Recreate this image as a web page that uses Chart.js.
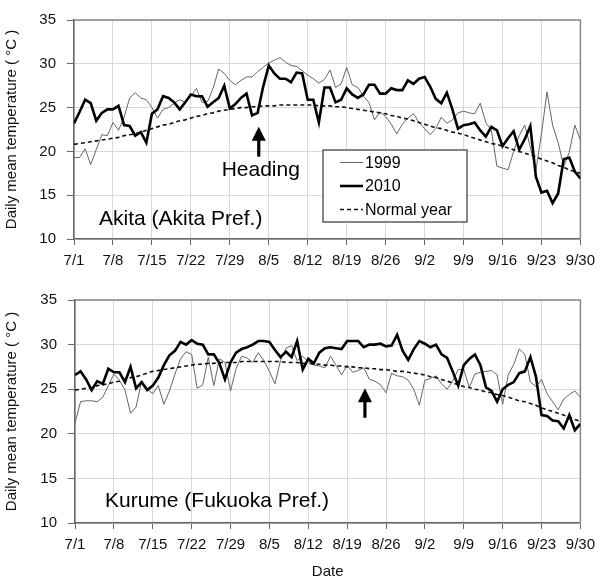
<!DOCTYPE html>
<html>
<head>
<meta charset="utf-8">
<script src="https://cdn.jsdelivr.net/npm/chart.js@4.4.1/dist/chart.umd.min.js"></script>
<style>
  html, body { margin: 0; padding: 0; background: #fff; }
  #wrap { position: relative; width: 602px; height: 581px; }
  #akita { position: absolute; left: 0; top: 0; }
  #kurume { position: absolute; left: 0; top: 280px; }
</style>
</head>
<body>
<div id="wrap">
  <canvas id="akita" width="602" height="280"></canvas>
  <canvas id="kurume" width="602" height="301"></canvas>
</div>
<script>
const tickLabels = ['7/1', '7/8', '7/15', '7/22', '7/29', '8/5', '8/12', '8/19', '8/26', '9/2', '9/9', '9/16', '9/23', '9/30'];

// Akita, daily mean temperature 7/1 - 9/30
const akita1999 = [
  19.3, 19.3, 20.3, 18.5, 20.2, 21.9, 21.8, 23.3, 22.4, 23.9, 26.1, 26.7, 26.1, 25.9,
  25.0, 23.8, 24.8, 25.0, 25.5, 25.9, 25.6, 26.3, 27.2, 25.6, 25.7, 27.2, 29.4, 28.9,
  28.1, 27.6, 28.1, 28.5, 28.5, 29.1, 29.6, 30.1, 30.4, 30.7, 30.2, 29.8, 29.7, 29.2,
  28.7, 28.3, 27.8, 28.2, 29.3, 27.3, 27.7, 29.6, 27.6, 27.3, 26.3, 25.6, 23.6, 24.5,
  24.0, 23.1, 22.0, 23.1, 23.8, 24.3, 23.3, 22.6, 21.9, 22.6, 23.9, 23.2, 23.6, 24.4,
  24.6, 24.4, 24.3, 25.5, 23.3, 22.4, 18.3, 18.1, 17.9, 20.0, 21.8, 23.0, 20.5, 17.8,
  22.0, 26.8, 23.0, 21.0, 18.3, 19.9, 23.0, 21.3
];
const akita2010 = [
  23.2, 24.5, 25.9, 25.5, 23.5, 24.4, 24.8, 24.8, 25.2, 23.0, 22.9, 21.8, 22.2, 21.0,
  24.3, 24.8, 26.3, 26.1, 25.6, 24.8, 25.6, 26.5, 26.3, 26.3, 25.1, 25.6, 26.1, 27.5,
  24.9, 25.4, 26.1, 26.6, 24.1, 24.4, 27.4, 29.8, 28.9, 28.3, 28.3, 27.9, 29.0, 28.9,
  25.9, 25.9, 23.3, 27.3, 27.3, 25.6, 25.9, 27.2, 26.5, 26.1, 26.5, 27.6, 27.6, 26.6,
  26.6, 27.2, 27.0, 27.0, 28.1, 27.7, 28.3, 28.5, 27.4, 26.0, 25.5, 26.7, 24.8, 22.6,
  23.0, 23.1, 23.3, 22.4, 21.7, 22.8, 22.4, 20.6, 21.5, 22.3, 20.2, 21.4, 22.9, 17.1,
  15.3, 15.5, 14.1, 15.2, 19.1, 19.3, 17.7, 16.9
];
const akitaNormal = [
  20.8, 20.9, 21.0, 21.1, 21.2, 21.3, 21.4, 21.5, 21.6, 21.8, 21.9, 22.0, 22.2, 22.4,
  22.6, 22.8, 23.0, 23.1, 23.3, 23.5, 23.6, 23.8, 24.0, 24.1, 24.3, 24.4, 24.6, 24.7,
  24.8, 24.9, 25.0, 25.0, 25.1, 25.1, 25.2, 25.2, 25.2, 25.3, 25.3, 25.3, 25.3, 25.3,
  25.3, 25.3, 25.2, 25.2, 25.2, 25.1, 25.1, 25.0, 24.9, 24.8, 24.7, 24.6, 24.5, 24.4,
  24.3, 24.1, 24.0, 23.8, 23.7, 23.5, 23.3, 23.1, 22.9, 22.7, 22.6, 22.4, 22.2, 22.1,
  21.9, 21.7, 21.5, 21.3, 21.1, 20.9, 20.8, 20.6, 20.4, 20.2, 20.0, 19.8, 19.6, 19.4,
  19.1, 18.9, 18.7, 18.4, 18.2, 17.9, 17.7, 17.5
];

// Kurume, daily mean temperature 7/1 - 9/30
const kurume1999 = [
  21.2, 23.6, 23.7, 23.7, 23.6, 24.1, 25.4, 26.7, 26.0, 24.9, 22.3, 23.0, 25.9, 25.0,
  24.5, 25.4, 23.3, 24.8, 26.7, 28.4, 29.2, 28.9, 25.1, 25.5, 28.6, 25.4, 28.4, 28.0,
  24.8, 27.3, 28.7, 28.5, 28.0, 29.1, 28.2, 27.0, 25.6, 28.2, 29.6, 29.9, 28.2, 28.7,
  28.1, 27.7, 27.6, 27.4, 28.7, 27.7, 26.6, 27.7, 26.9, 27.1, 27.4, 26.1, 25.9, 25.5,
  24.6, 26.8, 26.5, 26.4, 26.0, 25.0, 23.2, 26.0, 26.2, 26.5, 25.6, 25.0, 25.9, 27.2,
  27.2, 25.2, 26.7, 26.9, 27.0, 27.1, 26.6, 23.3, 26.6, 27.8, 29.5, 28.9, 25.8, 25.3,
  26.1, 24.5, 23.6, 22.7, 23.9, 24.4, 24.8, 24.1
];
const kurume2010 = [
  26.6, 27.0, 26.1, 24.9, 25.9, 25.6, 27.3, 26.9, 26.9, 25.8, 27.5, 25.1, 25.8, 24.9,
  25.4, 26.3, 27.7, 28.8, 29.3, 30.3, 30.0, 30.5, 30.1, 30.0, 28.9, 28.9, 27.9, 26.1,
  28.0, 29.1, 29.5, 29.7, 30.0, 30.4, 30.4, 30.3, 29.4, 28.6, 29.2, 28.6, 30.4, 27.2,
  28.4, 27.9, 29.1, 29.6, 29.7, 29.6, 29.5, 30.4, 30.4, 30.4, 29.7, 30.0, 30.0, 30.1,
  29.8, 29.9, 31.1, 29.3, 28.3, 29.5, 30.4, 30.1, 29.7, 30.0, 28.9, 28.5, 27.0, 25.4,
  27.7, 28.4, 28.9, 27.7, 25.2, 24.8, 23.6, 25.0, 25.5, 25.8, 26.8, 27.0, 28.6, 26.4,
  22.1, 22.0, 21.5, 21.4, 20.6, 22.1, 20.4, 21.1
];
const kurumeNormal = [
  24.9, 25.0, 25.1, 25.2, 25.4, 25.5, 25.6, 25.8, 25.9, 26.1, 26.3, 26.4, 26.6, 26.8,
  27.0, 27.1, 27.2, 27.3, 27.4, 27.5, 27.6, 27.7, 27.8, 27.8, 27.9, 27.9, 28.0, 28.0,
  28.0, 28.0, 28.1, 28.1, 28.1, 28.1, 28.1, 28.1, 28.1, 28.1, 28.0, 28.0, 28.0, 27.9,
  27.9, 27.8, 27.8, 27.7, 27.7, 27.6, 27.6, 27.5, 27.5, 27.4, 27.4, 27.3, 27.3, 27.2,
  27.2, 27.1, 27.0, 27.0, 26.9, 26.8, 26.7, 26.6, 26.4, 26.3, 26.1, 25.9, 25.7, 25.5,
  25.3, 25.2, 25.0, 24.9, 24.7, 24.6, 24.4, 24.3, 24.1, 23.9, 23.7, 23.6, 23.4, 23.2,
  22.9, 22.7, 22.5, 22.3, 22.1, 21.9, 21.6, 21.4
];

const seriesNames = ['1999', '2010', 'Normal year'];
const FONT = '"Liberation Sans", Arial, sans-serif';
const TEXT = '#111';

Chart.defaults.font.family = FONT;

function toPoints(values) {
  return values.map((v, i) => ({ x: i, y: v }));
}

function makeDatasets(y1999, y2010, yNormal) {
  return [
    { label: seriesNames[0], data: toPoints(y1999), borderColor: '#666', borderWidth: 1, pointRadius: 0, order: 2 },
    { label: seriesNames[1], data: toPoints(y2010), borderColor: '#000', borderWidth: 2.6, pointRadius: 0, order: 0 },
    { label: seriesNames[2], data: toPoints(yNormal), borderColor: '#111', borderWidth: 1.6, borderDash: [4, 3], pointRadius: 0, order: 1 }
  ];
}

// top + right border of the plot box
const framePlugin = {
  id: 'frame',
  beforeDatasetsDraw(chart) {
    const { ctx, chartArea: a } = chart;
    ctx.save();
    ctx.strokeStyle = '#888';
    ctx.lineWidth = 1.5;
    ctx.beginPath();
    ctx.moveTo(a.left, a.top);
    ctx.lineTo(a.right, a.top);
    ctx.lineTo(a.right, a.bottom);
    ctx.stroke();
    ctx.restore();
  }
};

function drawArrow(ctx, x, yTip, yEnd, head) {
  ctx.fillStyle = '#000';
  ctx.fillRect(x - 1.6, yTip + head - 2, 3.2, yEnd - yTip - head + 2);
  ctx.beginPath();
  ctx.moveTo(x, yTip);
  ctx.lineTo(x - head * 0.5, yTip + head);
  ctx.lineTo(x + head * 0.5, yTip + head);
  ctx.closePath();
  ctx.fill();
}

const notesPlugin = {
  id: 'notes',
  afterDatasetsDraw(chart, args, opts) {
    const { ctx, chartArea: a, scales: { x, y } } = chart;
    ctx.save();
    ctx.fillStyle = '#000';
    ctx.font = '21px ' + FONT;
    ctx.textBaseline = 'alphabetic';
    ctx.textAlign = 'left';
    ctx.fillText(opts.place, a.left + opts.placeDx, a.bottom - opts.placeDy);

    const ax = x.getPixelForValue(opts.arrowDay);
    drawArrow(ctx, ax, y.getPixelForValue(opts.arrowTip), y.getPixelForValue(opts.arrowEnd), 14);

    if (opts.heading) {
      ctx.textAlign = 'center';
      ctx.textBaseline = 'middle';
      ctx.fillText(opts.heading, ax + 2, y.getPixelForValue(opts.headingAt));
    }

    if (opts.legend) {
      const b = opts.legend;
      ctx.fillStyle = '#fff';
      ctx.fillRect(b.left, b.top, b.width, b.height);
      ctx.strokeStyle = '#444';
      ctx.lineWidth = 1.3;
      ctx.strokeRect(b.left, b.top, b.width, b.height);
      ctx.font = '16px ' + FONT;
      ctx.textAlign = 'left';
      ctx.textBaseline = 'middle';
      chart.data.datasets.forEach((ds, i) => {
        const ly = b.top + 12.5 + i * 23.5;
        ctx.strokeStyle = ds.borderColor;
        ctx.lineWidth = ds.borderWidth;
        ctx.setLineDash(ds.borderDash || []);
        ctx.beginPath();
        ctx.moveTo(b.left + 17, ly);
        ctx.lineTo(b.left + 40, ly);
        ctx.stroke();
        ctx.setLineDash([]);
        ctx.fillStyle = '#000';
        ctx.fillText(ds.label, b.left + 42, ly + 1);
      });
    }
    ctx.restore();
  }
};

function makeChart(id, data, layout, notes) {
  const ctx = document.getElementById(id).getContext('2d');
  return new Chart(ctx, {
    type: 'line',
    data: { datasets: data },
    plugins: [framePlugin, notesPlugin],
    options: {
      responsive: false,
      animation: false,
      layout: { padding: { top: layout.top, right: layout.right, left: 0, bottom: 0 } },
      plugins: {
        legend: { display: false },
        tooltip: { enabled: false },
        notes: notes
      },
      scales: {
        x: {
          type: 'linear',
          min: 0,
          max: 91,
          ticks: {
            stepSize: 7,
            autoSkip: false,
            maxRotation: 0,
            padding: 7,
            color: TEXT,
            font: { size: 15 },
            callback: v => tickLabels[v / 7]
          },
          grid: { color: '#d9d9d9', tickColor: '#666', tickLength: 6 },
          border: { color: '#666', width: 1.5 },
          title: {
            display: layout.showDate,
            text: 'Date',
            color: TEXT,
            font: { size: 15 },
            padding: { top: 0, bottom: 0 }
          },
          afterFit(scale) { scale.height = layout.xHeight; }
        },
        y: {
          min: 10,
          max: 35,
          ticks: { stepSize: 5, padding: 11, color: TEXT, font: { size: 15 } },
          grid: { color: '#d9d9d9', tickColor: '#666', tickLength: 7 },
          border: { color: '#666', width: 1.5 },
          title: {
            display: true,
            text: 'Daily mean temperature ( °C )',
            color: TEXT,
            font: { size: 15 },
            padding: { top: 3, bottom: 0 }
          },
          afterFit(scale) { scale.width = layout.yWidth; }
        }
      }
    }
  });
}

makeChart('akita', makeDatasets(akita1999, akita2010, akitaNormal),
  { top: 15, right: 17, xHeight: 41, yWidth: 74, showDate: false },
  {
    place: 'Akita (Akita Pref.)', placeDx: 25, placeDy: 14,
    arrowDay: 33.2, arrowTip: 22.8, arrowEnd: 19.4,
    heading: 'Heading', headingAt: 17.8,
    legend: { left: 323, top: 150, width: 144, height: 72 }
  });

makeChart('kurume', makeDatasets(kurume1999, kurume2010, kurumeNormal),
  { top: 10, right: 15, xHeight: 58, yWidth: 75, showDate: true },
  {
    place: 'Kurume (Fukuoka Pref.)', placeDx: 30, placeDy: 16,
    arrowDay: 52.2, arrowTip: 25.1, arrowEnd: 21.8
  });
</script>
</body>
</html>
